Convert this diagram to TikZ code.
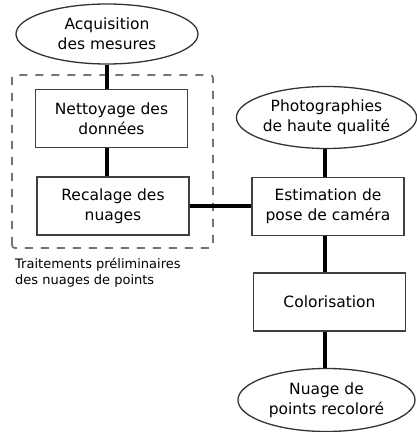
\documentclass[tikz,border=0pt]{standalone}
\usepackage{fontspec}
\setmainfont{DejaVu Sans}
\usetikzlibrary{shapes.geometric}
\begin{document}
\begin{tikzpicture}[x=1pt,y=1pt,
  lbl/.style={font=\fontsize{15.5}{20}\selectfont, align=center, inner sep=0pt},
  oval/.style={lbl, ellipse, draw=black!80, line width=1.3pt},
  stepbox/.style={lbl, rectangle, draw=black!75, line width=1.3pt, minimum width=152pt, minimum height=58pt},
  link/.style={line width=3.5pt, black}]
\useasboundingbox (0,0) rectangle (416,432);
% left column
\node[oval, minimum width=182pt, minimum height=60pt] (acq) at (107,398) {Acquisition\\des mesures};
\node[stepbox] (net) at (111.5,313.5) {Nettoyage des\\données};
\node[stepbox] (rec) at (113,226) {Recalage des\\nuages};
% group
\draw[black!55, line width=1.8pt, dash pattern=on 8pt off 8pt, rounded corners=3pt] (12,184) rectangle (213,357);
\node[anchor=north west, align=left, inner sep=0pt, font=\fontsize{13}{16}\selectfont] (grp) at (15,174) {Traitements préliminaires\\des nuages de points};
% right column
\node[oval, minimum width=177pt, minimum height=62pt] (photo) at (326.5,314.5) {Photographies\\de haute qualité};
\node[stepbox] (est) at (328,225.5) {Estimation de\\pose de caméra};
\node[stepbox] (col) at (329.5,130) {Colorisation};
\node[oval, minimum width=177pt, minimum height=63pt] (nua) at (326.5,32) {Nuage de\\points recoloré};
% connectors
\draw[link] (acq.south -| 107,0) -- (net.north -| 107,0);
\draw[link] (net.south -| 107,0) -- (rec.north -| 107,0);
\draw[link] (rec.east) -- (est.west |- rec.east);
\draw[link] (photo.south -| 325,0) -- (est.north -| 325,0);
\draw[link] (est.south -| 325,0) -- (col.north -| 325,0);
\draw[link] (col.south -| 325,0) -- (nua.north -| 325,0);
\end{tikzpicture}
\end{document}
